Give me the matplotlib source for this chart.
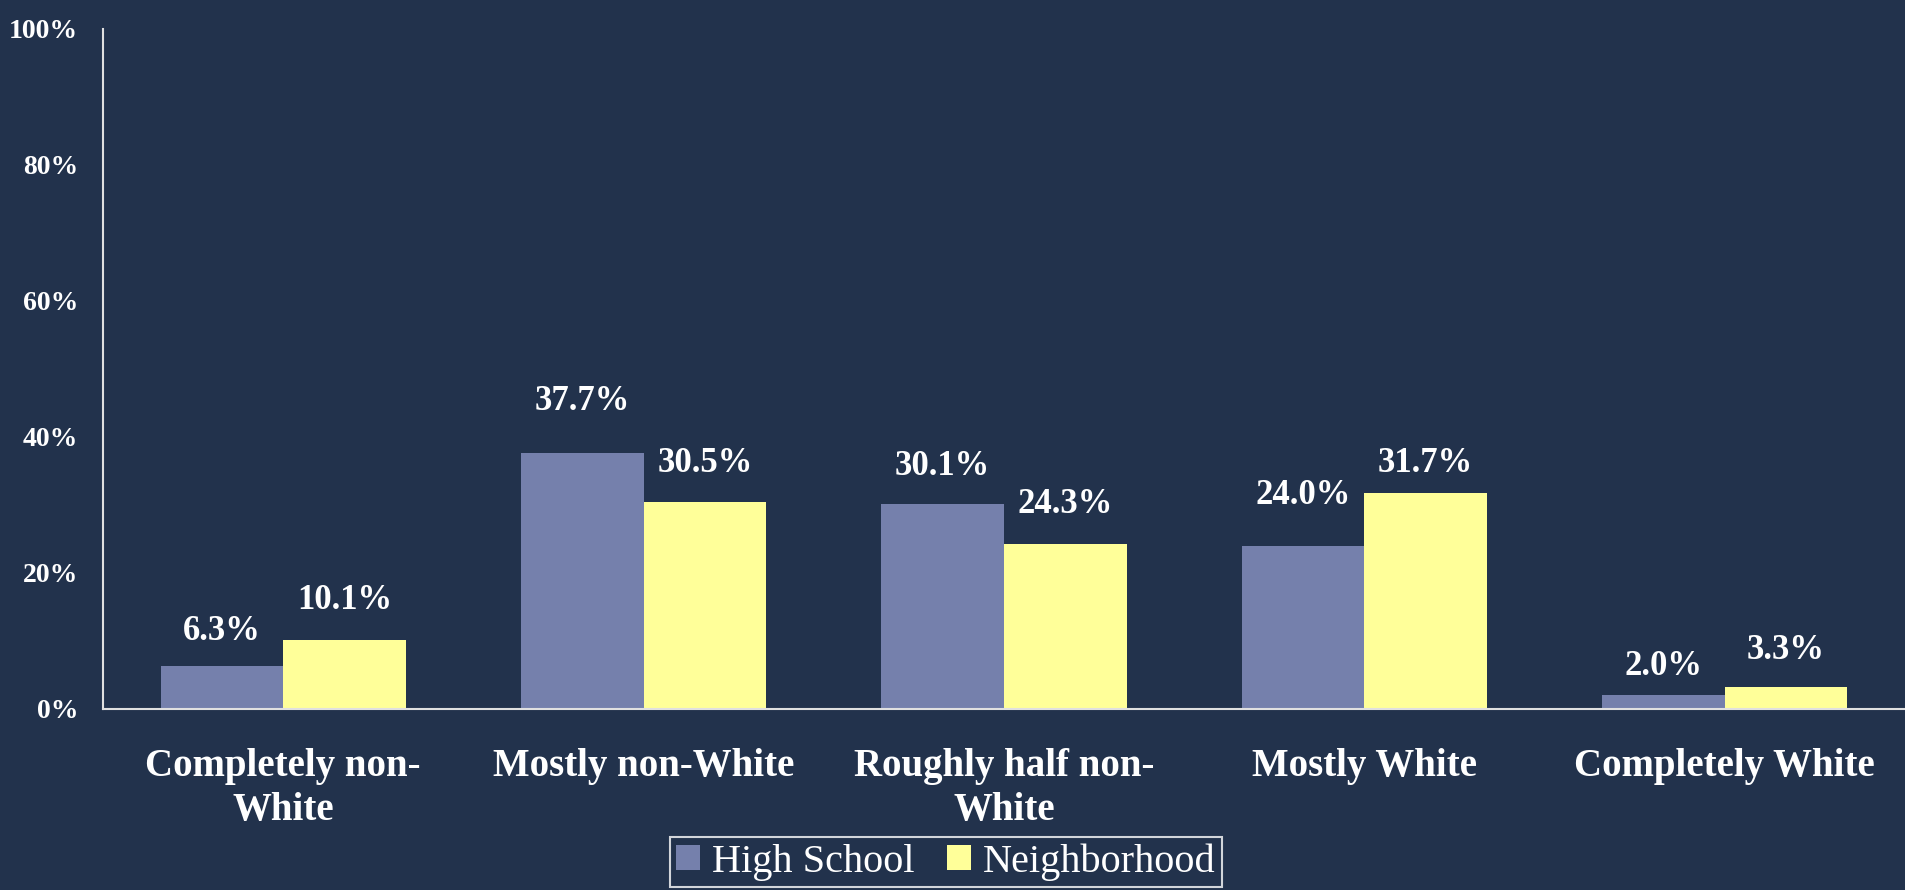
import matplotlib.pyplot as plt
import numpy as np

categories = ["Completely non-\nWhite", "Mostly non-White", "Roughly half non-\nWhite",
              "Mostly White", "Completely White"]
high_school = [6.3, 37.7, 30.1, 24.0, 2.0]
neighborhood = [10.1, 30.5, 24.3, 31.7, 3.3]

# label offsets above bar tops (pixels), as placed in the original
hs_offsets = [35, 51, 38, 50, 29]
nb_offsets = [40, 38, 39, 30, 36]

bg = "#22324c"
blue = "#7580ac"
yellow = "#ffff99"

plt.rcParams['font.family'] = ['Liberation Serif', 'DejaVu Serif']

fig = plt.figure(figsize=(19.05, 8.9), dpi=100, facecolor=bg)
ax = fig.add_axes([103 / 1905, 1 - 709 / 890, 1 - 103 / 1905, (709 - 29) / 890])
ax.set_facecolor(bg)

x = np.arange(len(categories))
w = 0.34
b1 = ax.bar(x - w / 2, high_school, w, color=blue, label="High School")
b2 = ax.bar(x + w / 2, neighborhood, w, color=yellow, label="Neighborhood")

for bars, vals, offs in [(b1, high_school, hs_offsets), (b2, neighborhood, nb_offsets)]:
    for r, v, o in zip(bars, vals, offs):
        ax.annotate("%.1f%%" % v, (r.get_x() + r.get_width() / 2, v),
                    xytext=(0, o), textcoords="offset pixels",
                    ha="center", va="center", color="white",
                    fontsize=25, fontweight="bold")

ax.set_xlim(-0.5, 4.5)
ax.set_ylim(0, 100)
ax.set_yticks([0, 20, 40, 60, 80, 100])
ax.set_yticklabels(["%d%%" % t for t in [0, 20, 40, 60, 80, 100]])
ax.set_xticks(x)
ax.set_xticklabels(categories)
ax.tick_params(axis="y", length=0, pad=18, labelsize=20, labelcolor="white")
ax.tick_params(axis="x", length=0, pad=28, labelsize=28, labelcolor="white")
for lab in ax.get_yticklabels():
    lab.set_fontweight("bold")
for lab in ax.get_xticklabels():
    lab.set_fontweight("bold")
    lab.set_linespacing(1.25)

for s in ["top", "right"]:
    ax.spines[s].set_visible(False)
for s in ["left", "bottom"]:
    ax.spines[s].set_color("#e0e0e0")
    ax.spines[s].set_linewidth(1.5)

leg = fig.legend(loc="upper center", bbox_to_anchor=(946 / 1905, 1 - 837 / 890),
                 ncol=2, fontsize=29, frameon=True, fancybox=False,
                 facecolor=bg, edgecolor="white", labelcolor="white",
                 handlelength=0.6, handleheight=0.6, handletextpad=0.3,
                 columnspacing=0.8, borderpad=0.15, borderaxespad=0)
leg.get_frame().set_linewidth(1.5)

fig.savefig("out.png", dpi=100, facecolor=bg)
